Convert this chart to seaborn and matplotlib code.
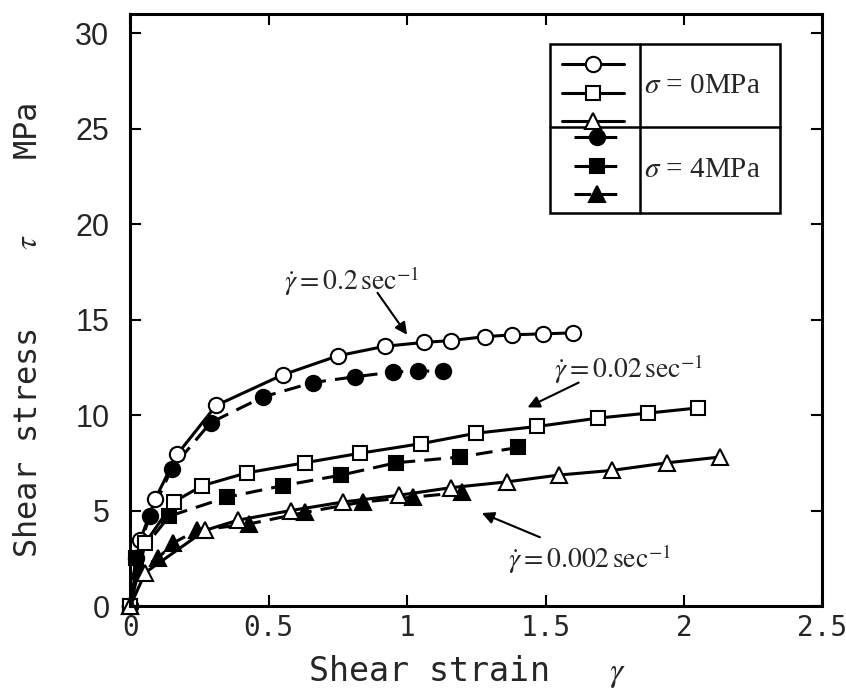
import numpy as np
import pandas as pd
import matplotlib
matplotlib.use("Agg")
import matplotlib.pyplot as plt
import seaborn as sns
from matplotlib.patches import Rectangle
from matplotlib.lines import Line2D

# strain / stress readings, sigma = 0 MPa (open) and 4 MPa (filled)
x_c0 = [0, 0.036, 0.09, 0.17, 0.31, 0.55, 0.75, 0.92, 1.06, 1.16, 1.28, 1.38, 1.49, 1.60]
y_c0 = [0, 3.45, 5.6, 7.95, 10.5, 12.1, 13.1, 13.6, 13.8, 13.9, 14.1, 14.2, 14.25, 14.3]
x_c4 = [0, 0.02, 0.07, 0.15, 0.29, 0.48, 0.66, 0.81, 0.95, 1.04, 1.13]
y_c4 = [0, 2.5, 4.7, 7.2, 9.6, 10.95, 11.7, 12.0, 12.25, 12.3, 12.3]

x_s0 = [0, 0.054, 0.157, 0.26, 0.42, 0.63, 0.83, 1.05, 1.25, 1.47, 1.69, 1.87, 2.05]
y_s0 = [0, 3.3, 5.45, 6.3, 6.97, 7.5, 8.0, 8.5, 9.05, 9.4, 9.84, 10.1, 10.37]
x_s4 = [0, 0.02, 0.14, 0.35, 0.55, 0.76, 0.96, 1.19, 1.40]
y_s4 = [0, 2.5, 4.7, 5.7, 6.3, 6.85, 7.5, 7.8, 8.3]

x_t0 = [0, 0.054, 0.27, 0.39, 0.58, 0.77, 0.97, 1.16, 1.36, 1.55, 1.74, 1.94, 2.13]
y_t0 = [0, 1.75, 3.96, 4.5, 5.0, 5.45, 5.8, 6.2, 6.5, 6.86, 7.1, 7.5, 7.8]
x_t4 = [0, 0.03, 0.1, 0.155, 0.24, 0.43, 0.63, 0.84, 1.02, 1.20]
y_t4 = [0, 1.9, 2.5, 3.3, 3.96, 4.3, 4.9, 5.45, 5.7, 5.95]

x_ticks = [0, 0.5, 1, 1.5, 2, 2.5]
x_ticklabels = ["0", "0.5", "1", "1.5", "2", "2.5"]
y_ticks = [0, 5, 10, 15, 20, 25, 30]

rate_labels = [r"$\dot{\gamma} = 0.2\,\mathrm{sec}^{-1}$",
               r"$\dot{\gamma} = 0.02\,\mathrm{sec}^{-1}$",
               r"$\dot{\gamma} = 0.002\,\mathrm{sec}^{-1}$"]
sigma_labels = [r"$\sigma$ = 0MPa", r"$\sigma$ = 4MPa"]

sns.set_theme(style="ticks")
plt.rcParams["mathtext.fontset"] = "stix"
plt.rcParams["font.family"] = ["Liberation Sans", "DejaVu Sans"]

gothic = ["DejaVu Sans Mono"]

fig = plt.figure(figsize=(8.46, 6.95), dpi=100)
ax = fig.add_axes([0.154, 0.128, 0.818, 0.852])

lw = 2.2
dash = (5.5, 3)
series = [
    # x, y, marker, filled, size
    (x_c4, y_c4, "o", True, 11),
    (x_s4, y_s4, "s", True, 10.5),
    (x_t4, y_t4, "^", True, 11.5),
    (x_c0, y_c0, "o", False, 11),
    (x_s0, y_s0, "s", False, 10.5),
    (x_t0, y_t0, "^", False, 11.5),
]
handles = {}
for xs, ys, m, filled, ms in series:
    df = pd.DataFrame({"strain": xs, "stress": ys})
    sns.lineplot(data=df, x="strain", y="stress", ax=ax, sort=False, estimator=None,
                 color="black", lw=lw, marker=m, markersize=ms,
                 markerfacecolor="black" if filled else "white",
                 markeredgecolor="black", markeredgewidth=1.5, clip_on=False)
    ln = ax.lines[-1]
    if filled:
        ln.set_dashes(dash)
    handles[(m, filled)] = ln

ax.set_xlim(0, 2.5)
ax.set_ylim(0, 31)
ax.set_xticks(x_ticks)
ax.set_xticklabels(x_ticklabels, family=gothic, fontsize=20)
ax.set_yticks(y_ticks)
ax.tick_params(axis="y", labelsize=22, pad=15)
ax.tick_params(axis="x", pad=6)
ax.tick_params(direction="in", length=8, width=1.5, top=True, right=True, color="black")
for s in ax.spines.values():
    s.set_linewidth(2.2)
    s.set_color("black")

ax.set_xlabel(r"Shear strain   $\gamma$", family=gothic, fontsize=24)
ax.set_ylabel(r"Shear stress    $\tau$    MPa", family=gothic, fontsize=23)
ax.xaxis.set_label_coords(0.486, -0.08)
ax.yaxis.set_label_coords(-0.125, 0.465)

# rate annotations
arrow = dict(arrowstyle="-|>", color="black", lw=1.5, mutation_scale=18, shrinkA=0, shrinkB=0)
ax.annotate("", xy=(1.0, 14.2), xytext=(0.893, 16.4), arrowprops=arrow)
ax.text(0.80, 17.0, rate_labels[0], fontsize=20, ha="center", va="center")
ax.annotate("", xy=(1.435, 10.4), xytext=(1.62, 11.7), arrowprops=arrow)
ax.text(1.80, 12.4, rate_labels[1], fontsize=20, ha="center", va="center")
ax.annotate("", xy=(1.27, 4.87), xytext=(1.48, 3.6), arrowprops=arrow)
ax.text(1.66, 2.45, rate_labels[2], fontsize=20, ha="center", va="center")

# legend table
bx0, bx1, bmid = 0.607, 0.939, 0.737
by0, by1, byMid = 0.664, 0.949, 0.809
ax.add_patch(Rectangle((bx0, by0), bx1 - bx0, by1 - by0, transform=ax.transAxes,
                       fill=True, facecolor="white", edgecolor="black", lw=1.8, zorder=5))
ax.add_line(Line2D([bmid, bmid], [by0, by1], transform=ax.transAxes, color="black", lw=1.8, zorder=6))
ax.add_line(Line2D([bx0, bx1], [byMid, byMid], transform=ax.transAxes, color="black", lw=1.8, zorder=6))

leg1 = ax.legend(handles=[handles[("o", False)], handles[("s", False)], handles[("^", False)]],
                 labels=["", "", ""], loc="center", bbox_to_anchor=((bx0 + bmid) / 2 - 0.003, (by1 + byMid) / 2 - 0.0155),
                 bbox_transform=ax.transAxes, frameon=False, handlelength=3.2, handletextpad=0,
                 labelspacing=0.55, fontsize=14, borderpad=0)
leg1.set_zorder(7)
ax.add_artist(leg1)
leg2 = ax.legend(handles=[handles[("o", True)], handles[("s", True)], handles[("^", True)]],
                 labels=["", "", ""], loc="center", bbox_to_anchor=((bx0 + bmid) / 2 + 0.003, (byMid + by0) / 2 + 0.004),
                 bbox_transform=ax.transAxes, frameon=False, handlelength=2.4, handletextpad=0,
                 labelspacing=0.57, fontsize=14, borderpad=0)
leg2.set_zorder(7)
ax.text(bmid + 0.006, (by1 + byMid) / 2, sigma_labels[0], transform=ax.transAxes, fontsize=21,
        family="Liberation Serif", va="center", ha="left", zorder=8)
ax.text(bmid + 0.006, (byMid + by0) / 2, sigma_labels[1], transform=ax.transAxes, fontsize=21,
        family="Liberation Serif", va="center", ha="left", zorder=8)

fig.savefig("out.png", dpi=100, facecolor="white")
